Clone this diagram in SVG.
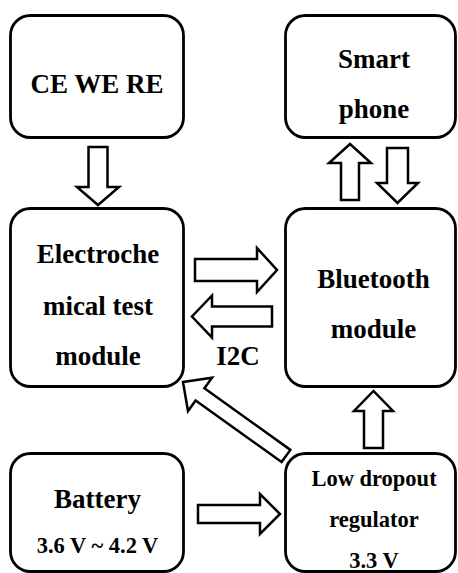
<svg xmlns="http://www.w3.org/2000/svg" width="458" height="573" viewBox="0 0 458 573">
<style>
.box{fill:#fff;stroke:#000;stroke-width:2.8}
.arr{fill:#fff;stroke:#000;stroke-width:2.5;stroke-linejoin:miter}
text{font-family:"Liberation Serif","Times New Roman",serif;font-weight:bold;fill:#000;text-anchor:middle}
.big{font-size:27px}
.small{font-size:22.5px}
</style>
<rect width="458" height="573" fill="#fff"/>
<g id="connectors">
<polygon class="arr" points="88.5,147 107.5,147 107.5,187 119,187 98,205 77,187 88.5,187"/>
<polygon class="arr" points="341,200 359,200 359,163 371,163 350,144 329,163 341,163"/>
<polygon class="arr" points="387,148 408,148 408,183 418,183 397.5,203 377,183 387,183"/>
<polygon class="arr" points="195,259 257,259 257,248 277,270 257,292 257,281 195,281"/>
<polygon class="arr" points="272,306.5 212,306.5 212,295.5 192,316.5 212,337.5 212,326.5 272,326.5"/>
<polygon class="arr" points="198,505 260,505 260,494 280,514 260,534 260,523 198,523"/>
<polygon class="arr" points="364,448 383,448 383,411 393,411 373.5,391 354,411 364,411"/>
<polygon class="arr" points="183,382 212,377.7 204.4,388.2 290.4,449.9 281.6,462.1 195.6,400.4 188,411"/>
<text class="big" x="238" y="365" font-size="26">I2C</text>
</g>
<g id="ce">
<rect class="box" x="10.5" y="15.5" width="173" height="122" rx="20"/>
<text class="big" x="97" y="93">CE WE RE</text>
</g>
<g id="smartphone">
<rect class="box" x="285.5" y="15.5" width="170" height="122" rx="20"/>
<text class="big" x="374" y="68">Smart</text>
<text class="big" x="374" y="118">phone</text>
</g>
<g id="electrochemical">
<rect class="box" x="10.5" y="208.5" width="173" height="178" rx="20"/>
<text class="big" x="98" y="263">Electroche</text>
<text class="big" x="98" y="315">mical test</text>
<text class="big" x="98" y="365">module</text>
</g>
<g id="bluetooth">
<rect class="box" x="285.5" y="208.5" width="170" height="178" rx="20"/>
<text class="big" x="373.5" y="288">Bluetooth</text>
<text class="big" x="373.5" y="338">module</text>
</g>
<g id="battery">
<rect class="box" x="10.5" y="453.5" width="173" height="118" rx="20"/>
<text class="big" x="97.5" y="508">Battery</text>
<text class="small" x="97.5" y="553">3.6 V ~ 4.2 V</text>
</g>
<g id="ldo">
<rect class="box" x="285.5" y="453.5" width="170" height="118" rx="20"/>
<text class="small" x="374" y="486">Low dropout</text>
<text class="small" x="374" y="527">regulator</text>
<text class="small" x="374" y="568">3.3 V</text>
</g>
</svg>
